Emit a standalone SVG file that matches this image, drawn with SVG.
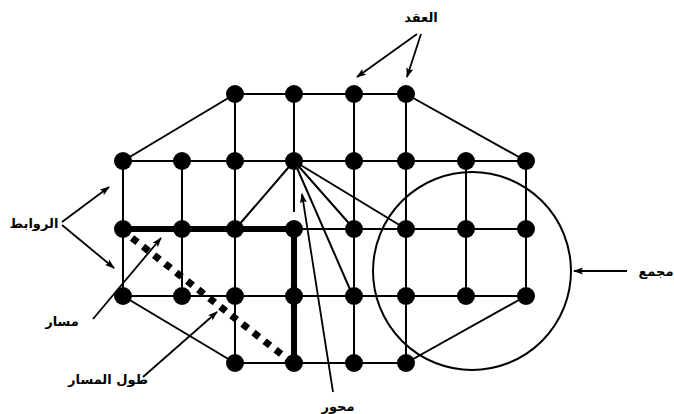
<svg xmlns="http://www.w3.org/2000/svg" width="674" height="414" viewBox="0 0 674 414">
<defs>
<marker id="ah" markerUnits="userSpaceOnUse" markerWidth="10" markerHeight="8" refX="9" refY="4" orient="auto">
<path d="M0,0.5 L10,4 L0,7.5 L2,4 z" fill="#000"/>
</marker>
<style>
.e{stroke:#000;stroke-width:2;fill:none}
.b{stroke:#000;stroke-width:6;fill:none}
.d{stroke:#000;stroke-width:7;fill:none;stroke-dasharray:7 7}
.a{stroke:#000;stroke-width:1.8;fill:none;marker-end:url(#ah)}
.n{fill:#000}
.t{font-family:"DejaVu Sans",sans-serif;font-weight:bold;font-size:13px;fill:#000;text-anchor:middle}
</style>
</defs>
<rect width="674" height="414" fill="#fff"/>
<g id="connectors">
<!-- row1 -->
<path class="e" d="M235,94 H406"/>
<path class="e" d="M235,94 L123,161"/>
<path class="e" d="M406,94 L526,161"/>
<path class="e" d="M235,94 V161 M294,94 V161 M354,94 V161 M406,94 V161"/>
<!-- row2 -->
<path class="e" d="M123,161 H526"/>
<path class="e" d="M123,161 V296 M182,161 V296 M235,161 V363 M294,161 V212 M354,161 V363 M406,161 V363 M466,161 V296 M526,161 V296"/>
<!-- fan -->
<path class="e" d="M294,161 L238,226 M294,161 L354,229 M294,161 L406,229 M294,161 L352,294"/>
<!-- row3 -->
<path class="e" d="M294,229 H526"/>
<!-- row4 -->
<path class="e" d="M123,296 H526"/>
<!-- row5 -->
<path class="e" d="M235,363 H406"/>
<path class="e" d="M123,296 L235,363"/>
<path class="e" d="M526,296 L406,363"/>
<!-- bold path -->
<path class="b" d="M123,229 H294 V363"/>
<!-- dotted path length -->
<path class="d" d="M132,238 L290,361"/>
<!-- cluster circle -->
<circle class="e" cx="472" cy="271" r="99"/>
<!-- label arrows -->
<path class="a" d="M417,34 L357,77"/>
<path class="a" d="M421,34 L407,77"/>
<path class="a" d="M62,222 L109,187"/>
<path class="a" d="M62,225 L114,268"/>
<path class="a" d="M93,319 L161,238"/>
<path class="a" d="M143,377 L217,312"/>
<path class="a" d="M333,392 L302,194"/>
<path class="a" d="M627,271 L574,271"/>
</g>
<g id="nodes">
<g id="n1_3"><circle class="n" cx="235" cy="94" r="9"/></g>
<g id="n1_4"><circle class="n" cx="294" cy="94" r="9"/></g>
<g id="n1_5"><circle class="n" cx="354" cy="94" r="9"/></g>
<g id="n1_6"><circle class="n" cx="406" cy="94" r="9"/></g>
<g id="n2_1"><circle class="n" cx="123" cy="161" r="9"/></g>
<g id="n2_2"><circle class="n" cx="182" cy="161" r="9"/></g>
<g id="n2_3"><circle class="n" cx="235" cy="161" r="9"/></g>
<g id="n2_4"><circle class="n" cx="294" cy="161" r="9"/></g>
<g id="n2_5"><circle class="n" cx="354" cy="161" r="9"/></g>
<g id="n2_6"><circle class="n" cx="406" cy="161" r="9"/></g>
<g id="n2_7"><circle class="n" cx="466" cy="161" r="9"/></g>
<g id="n2_8"><circle class="n" cx="526" cy="161" r="9"/></g>
<g id="n3_1"><circle class="n" cx="123" cy="229" r="9"/></g>
<g id="n3_2"><circle class="n" cx="182" cy="229" r="9"/></g>
<g id="n3_3"><circle class="n" cx="235" cy="229" r="9"/></g>
<g id="n3_4"><circle class="n" cx="294" cy="229" r="9"/></g>
<g id="n3_5"><circle class="n" cx="354" cy="229" r="9"/></g>
<g id="n3_6"><circle class="n" cx="406" cy="229" r="9"/></g>
<g id="n3_7"><circle class="n" cx="466" cy="229" r="9"/></g>
<g id="n3_8"><circle class="n" cx="526" cy="229" r="9"/></g>
<g id="n4_1"><circle class="n" cx="123" cy="296" r="9"/></g>
<g id="n4_2"><circle class="n" cx="182" cy="296" r="9"/></g>
<g id="n4_3"><circle class="n" cx="235" cy="296" r="9"/></g>
<g id="n4_4"><circle class="n" cx="294" cy="296" r="9"/></g>
<g id="n4_5"><circle class="n" cx="354" cy="296" r="9"/></g>
<g id="n4_6"><circle class="n" cx="406" cy="296" r="9"/></g>
<g id="n4_7"><circle class="n" cx="466" cy="296" r="9"/></g>
<g id="n4_8"><circle class="n" cx="526" cy="296" r="9"/></g>
<g id="n5_3"><circle class="n" cx="235" cy="363" r="9"/></g>
<g id="n5_4"><circle class="n" cx="294" cy="363" r="9"/></g>
<g id="n5_5"><circle class="n" cx="354" cy="363" r="9"/></g>
<g id="n5_6"><circle class="n" cx="406" cy="363" r="9"/></g>
</g>
<g id="labels">
<text class="t" x="421" y="22">العقد</text>
<text class="t" x="34" y="228">الروابط</text>
<text class="t" x="62" y="326">مسار</text>
<text class="t" x="108" y="384">طول المسار</text>
<text class="t" x="338" y="411">محور</text>
<text class="t" x="656" y="276">مجمع</text>
</g>
</svg>
